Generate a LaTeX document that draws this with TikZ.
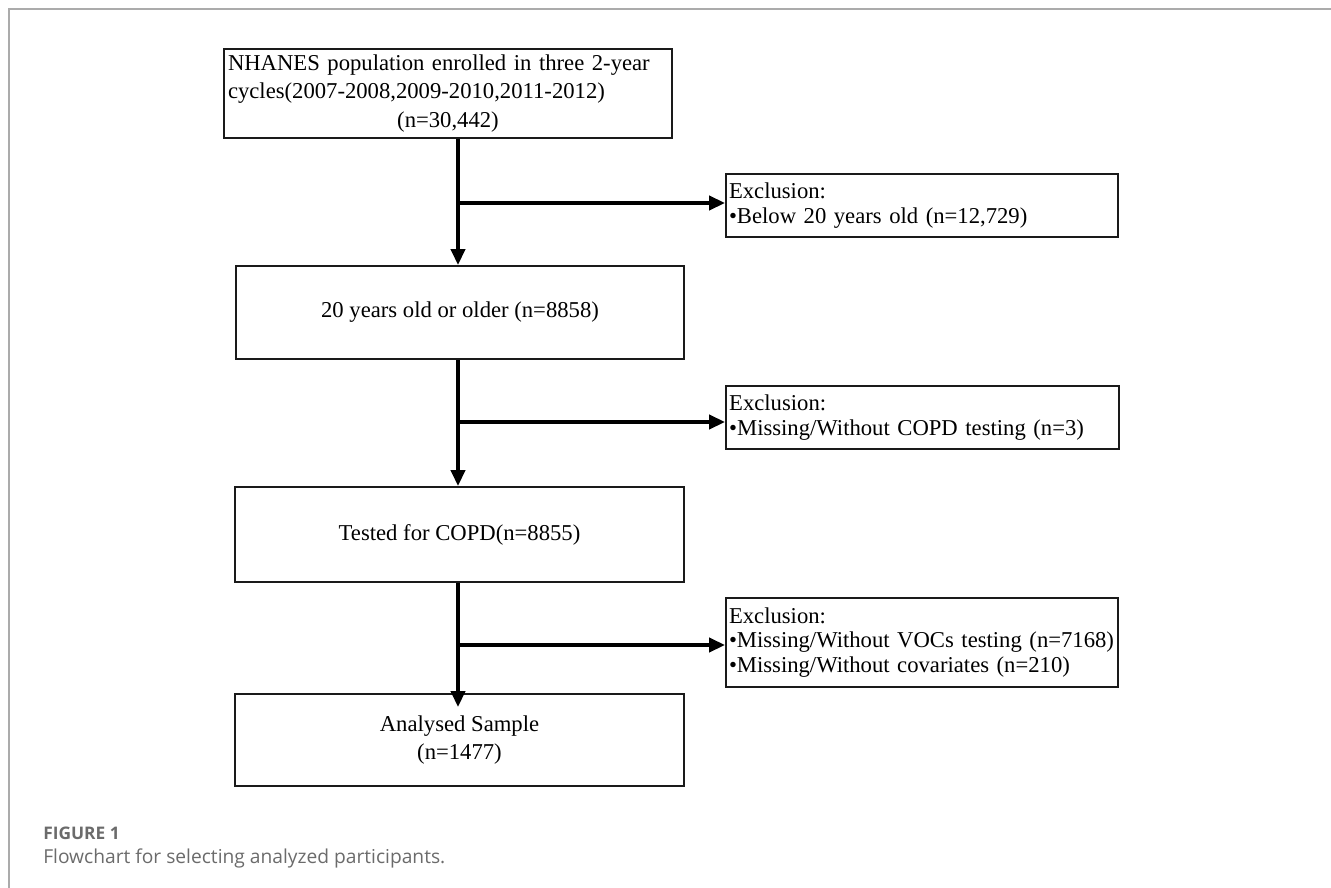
\documentclass[tikz,border=0pt]{standalone}
\usepackage{fontspec}
\newfontfamily\boxfont{Liberation Serif}
\newfontfamily\capfont{Open Sans}
\usetikzlibrary{arrows.meta}
\definecolor{framegray}{HTML}{ABABAB}
\definecolor{capgray}{HTML}{6B6B6B}
\definecolor{boxline}{HTML}{1A1A1A}
\begin{document}
\begin{tikzpicture}[x=0.75pt,y=-0.75pt,
  box/.style={draw=boxline, line width=1.4pt, inner sep=0pt,
    font=\fontsize{17}{18.4}\selectfont\boxfont, text=black},
  widebox/.style={box, font=\fontsize{17}{21.5}\selectfont\boxfont},
  flow/.style={draw=black, line width=3pt, -{Triangle[length=12pt,width=10.5pt]}},
  capstyle/.style={anchor=base west, inner sep=0pt, text=capgray}
]
\useasboundingbox (0,0) rectangle (1331,888);
\draw[framegray, line width=1.5pt] (9,888) -- (9,9) -- (1331,9);

% main boxes
\node[widebox, minimum width=336pt, minimum height=66.75pt, text width=330pt, align=left]
  (n1) at (448,93.5)
  {\makebox[312pt][s]{NHANES population enrolled in three 2-year}\\
   cycles(2007-2008,2009-2010,2011-2012)\\
   \makebox[330pt]{(n=30,442)}};
\node[box, minimum width=336pt, minimum height=69.75pt, align=center]
  (n2) at (460,312.5) {20 years old or older (n=8858)};
\node[box, minimum width=336.75pt, minimum height=71.25pt, align=center]
  (n3) at (459.5,534.5) {Tested for COPD(n=8855)};
\node[widebox, minimum width=336.75pt, minimum height=69pt, align=center]
  (n4) at (459.5,740) {Analysed Sample\\(n=1477)};

% exclusion boxes
\node[box, minimum width=294pt, minimum height=47.25pt, text width=289.5pt, align=left]
  (e1) at (922,205.5) {Exclusion:\\•Below 20 years old (n=12,729)};
\node[box, minimum width=294.75pt, minimum height=47.25pt, text width=290pt, align=left]
  (e2) at (922.5,417.5) {Exclusion:\\•Missing/Without COPD testing (n=3)};
\node[box, minimum width=294pt, minimum height=66.75pt, text width=289.5pt, align=left]
  (e3) at (922,642.5) {Exclusion:\\•Missing/Without VOCs testing (n=7168)\\•Missing/Without covariates (n=210)};

% connectors
\coordinate (sp) at (458,0);
\coordinate (b1) at (458,203);
\coordinate (b2) at (458,422);
\coordinate (b3) at (458,645);
\coordinate (n4in) at ([yshift=-10.5pt]n4.north);

\draw[flow] (n1.south -| sp) -- (n2.north -| sp);
\draw[flow] (n2.south -| sp) -- (n3.north -| sp);
\draw[flow] (n3.south -| sp) -- (n4in -| sp);
\draw[flow] (b1) -- (e1.west |- b1);
\draw[flow] (b2) -- (e2.west |- b2);
\draw[flow] (b3) -- (e3.west |- b3);

% caption
\node[capstyle, font=\fontsize{13}{16}\selectfont\capfont\bfseries] (fig) at (43,839) {FIGURE 1};
\node[capstyle, font=\fontsize{14.4}{17}\selectfont\capfont] (cap) at (43,863) {Flowchart for selecting analyzed participants.};
\end{tikzpicture}
\end{document}
